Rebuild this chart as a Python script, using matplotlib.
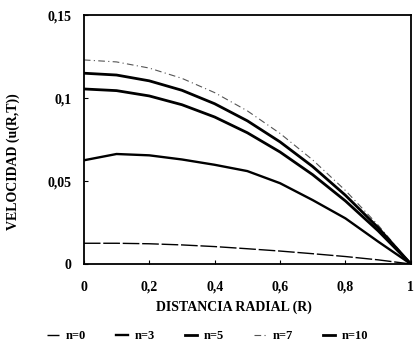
import numpy as np
import matplotlib.pyplot as plt
from matplotlib.ticker import FuncFormatter

plt.rcParams['font.family'] = 'Liberation Serif'
plt.rcParams['font.weight'] = 'bold'

R = [0.0, 0.1, 0.2, 0.3, 0.4, 0.5, 0.6, 0.7, 0.8, 0.9, 1.0]
u_n0 = [0.0125, 0.0125, 0.0122, 0.0115, 0.0105, 0.0092, 0.0078, 0.0062, 0.0045, 0.0025, 0.0]
u_n3 = [0.0625, 0.0663, 0.0655, 0.0630, 0.0598, 0.0560, 0.0487, 0.0385, 0.0275, 0.0135, 0.0]
u_n5 = [0.1055, 0.1045, 0.1013, 0.0960, 0.0886, 0.0791, 0.0675, 0.0538, 0.0380, 0.0200, 0.0]
u_n7 = [0.1230, 0.1218, 0.1181, 0.1119, 0.1033, 0.0923, 0.0787, 0.0627, 0.0443, 0.0234, 0.0]
u_n10 = [0.1150, 0.1139, 0.1104, 0.1047, 0.0966, 0.0863, 0.0736, 0.0587, 0.0414, 0.0219, 0.0]

fig = plt.figure(figsize=(4.15, 3.52), dpi=100)
ax = fig.add_axes([0.202, 0.25, 0.788, 0.707])

ax.plot(R, u_n0, color='black', lw=1.0, dashes=(12, 2), label='n=0')
ax.plot(R, u_n3, color='black', lw=1.7, label='n=3')
ax.plot(R, u_n5, color='black', lw=2.0, label='n=5')
ax.plot(R, u_n7, color='#555555', lw=0.8, dashes=(6, 3, 1, 3), label='n=7')
ax.plot(R, u_n10, color='black', lw=2.0, label='n=10')

ax.set_xlim(0, 1)
ax.set_ylim(0, 0.15)
ax.set_xticks([0, 0.2, 0.4, 0.6, 0.8, 1])
ax.set_yticks([0, 0.05, 0.1, 0.15])
fmt = FuncFormatter(lambda v, p: ('%g' % round(v, 2)).replace('.', ','))
ax.xaxis.set_major_formatter(fmt)
ax.yaxis.set_major_formatter(fmt)
ax.tick_params(direction='in', length=3, labelsize=10)
ax.tick_params(axis='x', pad=12)
ax.tick_params(axis='y', pad=9)
for s in ax.spines.values():
    s.set_linewidth(1.3)

ax.set_xlabel('DISTANCIA RADIAL (R)', fontsize=10, fontweight='bold')
ax.xaxis.set_label_coords(0.46, -0.145)
ax.set_ylabel('VELOCIDAD (u(R,T))', fontsize=10, fontweight='bold')
ax.yaxis.set_label_coords(-0.195, 0.41)

fig.legend(loc='center', bbox_to_anchor=(0.5, 0.045), ncol=5, frameon=False,
           fontsize=9, handlelength=1.0, handletextpad=0.5, columnspacing=2.4)

plt.savefig('out.png', dpi=100)
